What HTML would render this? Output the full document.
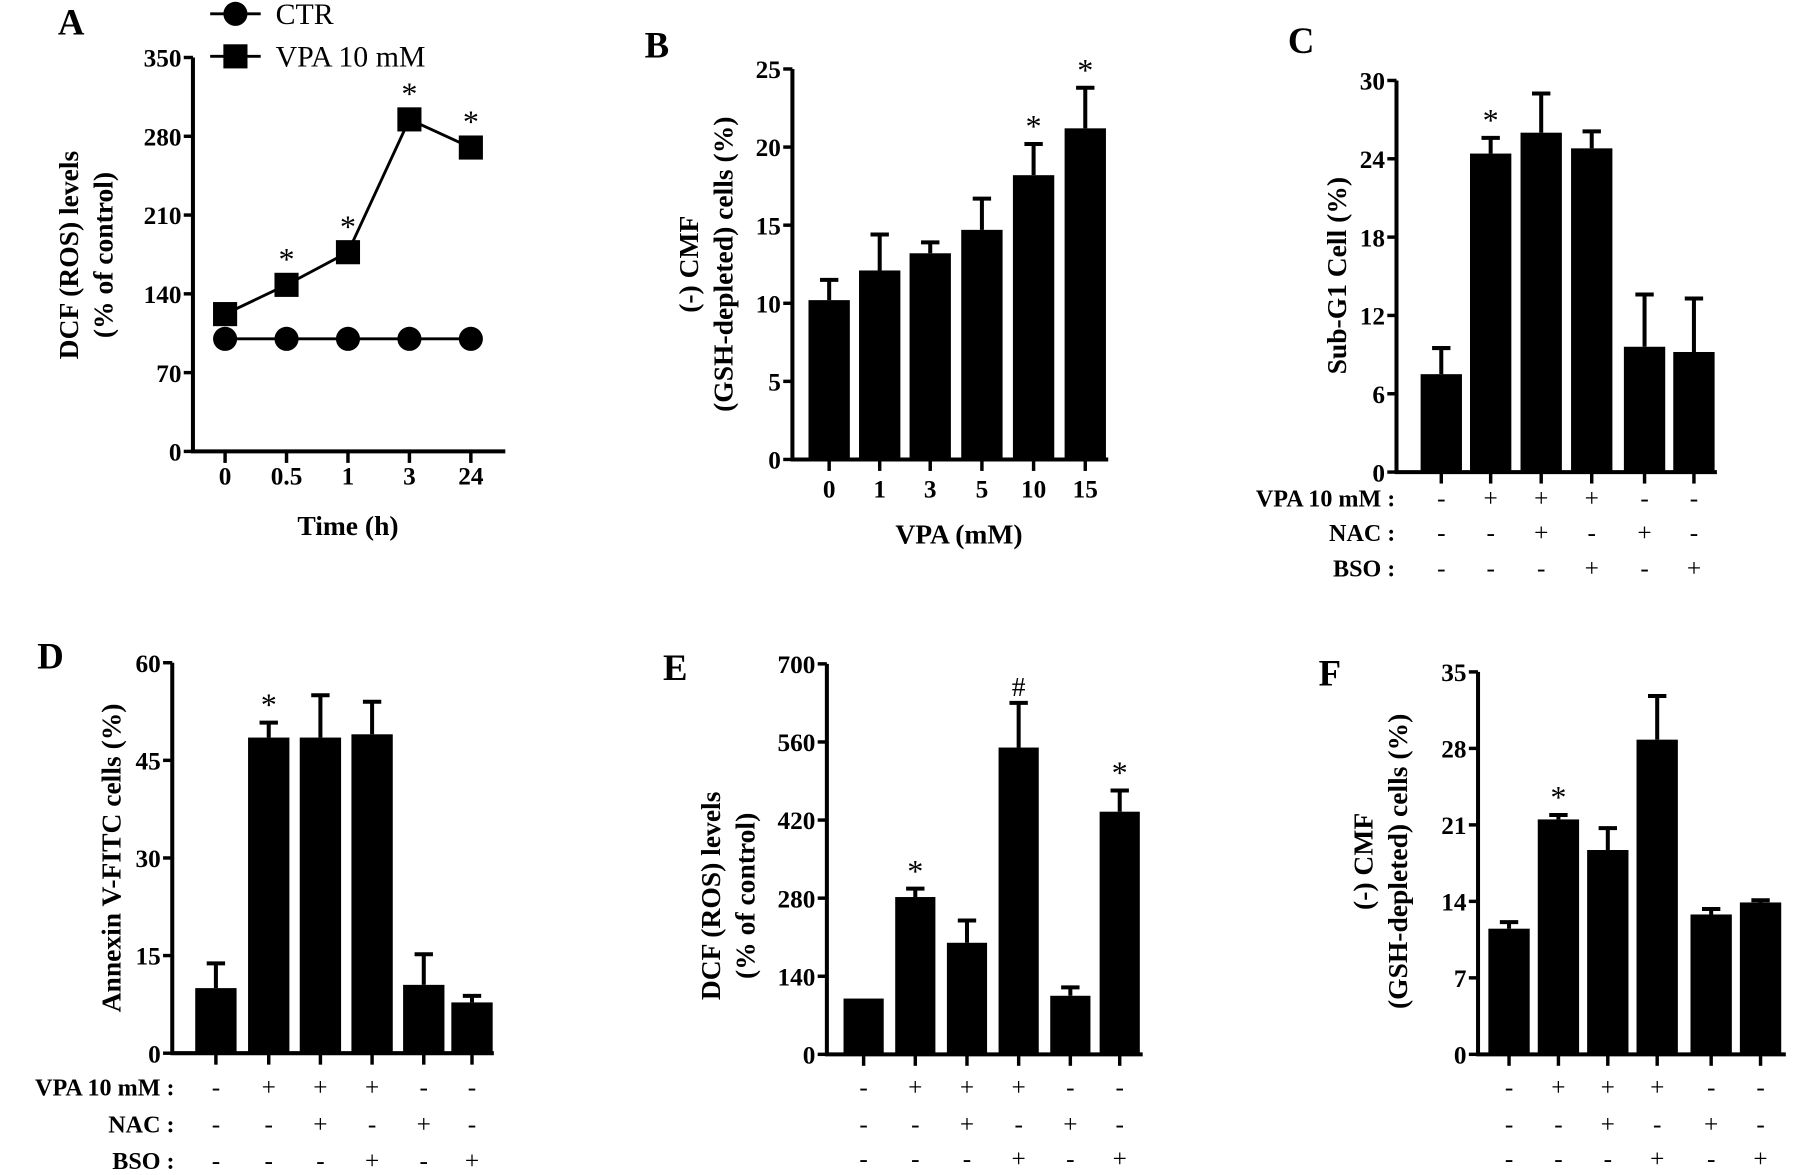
<!DOCTYPE html>
<html><head><meta charset="utf-8"><style>
html,body{margin:0;padding:0;background:#fff;}
svg{display:block;font-family:"Liberation Serif",serif;}
</style></head><body>
<svg id="fig" width="1795" height="1175" viewBox="0 0 1563 1023" xmlns="http://www.w3.org/2000/svg"></svg>
<script>
// Panel A data
const aTimes = ["0","0.5","1","3","24"];
const aCTR = [100,100,100,100,100];
const aVPA = [122,148,177,295,270];
const aSig = [false,true,true,true,true];
const aTicks = [0,70,140,210,280,350];
// Panel B data
const bDoses = ["0","1","3","5","10","15"];
const bVals = [10.2,12.1,13.2,14.7,18.2,21.2];
const bErr = [1.3,2.3,0.7,2.0,2.0,2.6];
const bTicks = [0,5,10,15,20,25];
// Panel C
const cVals = [7.5,24.4,26.0,24.8,9.6,9.2];
const cErr = [2.0,1.2,3.0,1.3,4.0,4.1];
const cTicks = [0,6,12,18,24,30];
// Panel D
const dVals = [10.0,48.5,48.5,49.0,10.5,7.8];
const dErr = [3.8,2.3,6.5,5.0,4.7,1.0];
const dTicks = [0,15,30,45,60];
// Panel E
const eVals = [100,282,200,550,105,435];
const eErr = [0,15,40,80,15,38];
const eTicks = [0,140,280,420,560,700];
// Panel F
const fVals = [11.5,21.5,18.7,28.8,12.8,13.9];
const fErr = [0.6,0.4,2.0,4.0,0.5,0.2];
const fTicks = [0,7,14,21,28,35];
// treatment rows
const rowVPA = ["-","+","+","+","-","-"];
const rowNAC = ["-","-","+","-","+","-"];
const rowBSO = ["-","-","-","+","-","+"];

const NS="http://www.w3.org/2000/svg";
const svg=document.getElementById('fig');
function mk(tag,attrs,parent){const e=document.createElementNS(NS,tag);for(const k in attrs)e.setAttribute(k,attrs[k]);(parent||svg).appendChild(e);return e;}
function txt(s,x,y,size,weight,anchor,parent,rot){const t=mk('text',{x:x,y:y,'font-size':size,'font-weight':weight,'text-anchor':anchor||'middle'},parent);if(rot)t.setAttribute('transform','rotate(-90 '+x+' '+y+')');t.textContent=s;return t;}

function yAxis(g,x0,yTop,yBot,ticks){
  const max=ticks[ticks.length-1];
  const ys=v=>yBot-(v/max)*(yBot-yTop);
  const ax=mk('line',{x1:x0,y1:yTop,x2:x0,y2:yBot+1.5,stroke:'#000','stroke-width':3.5},g);
  
  ticks.forEach(t=>{
    mk('line',{x1:x0-8,y1:ys(t),x2:x0,y2:ys(t),stroke:'#000','stroke-width':3},g);
    const l=txt(String(t),x0-10,ys(t)+8,22,'bold','end',g);
    
  });
  return ys;
}

function barPanel(name,x0,xEnd,yTop,yBot,ticks,centers,vals,errs,bw,marks){
  const g=mk('g',{});
  
  const ys=yAxis(g,x0,yTop,yBot,ticks);
  vals.forEach((v,i)=>{
    const c=centers[i];
    const r=mk('rect',{x:c-bw/2,y:ys(v),width:bw,height:yBot-ys(v),fill:'#000'},g);
    
    if(errs[i]>0){
      const e=ys(v+errs[i]);
      mk('line',{x1:c,y1:e,x2:c,y2:ys(v),stroke:'#000','stroke-width':3.5},g);
      const cap=mk('line',{x1:c-8,y1:e,x2:c+8,y2:e,stroke:'#000','stroke-width':3.5},g);
      
    }
    mk('line',{x1:c,y1:yBot,x2:c,y2:yBot+10,stroke:'#000','stroke-width':3},g);
    if(marks&&marks[i]){
      const m=txt(marks[i],c,ys(v+errs[i])-6,marks[i]=='*'?28:24,'normal','middle',g);
      
    }
  });
  const xa=mk('line',{x1:x0-1.5,y1:yBot,x2:xEnd,y2:yBot,stroke:'#000','stroke-width':3.5},g);
  
  return {g,ys};
}
function rows(g,centers,ys,labelX){
  const labels=["VPA 10 mM :","NAC :","BSO :"];
  [rowVPA,rowNAC,rowBSO].forEach((row,r)=>{
    if(labelX!==null){const l=txt(labels[r],labelX,ys[r]+8,21,'bold','end',g);
      }
    row.forEach((s,i)=>{const t=txt(s,centers[i],ys[r]+8,22,'normal','middle',g);
      });
  });
}
function letter(s,x,y){const l=txt(s,x,y,32,'bold','middle');}

// ---------- Panel A ----------
(function(){
  const g=mk('g',{});
  const x0=168,yTop=50,yBot=393;
  const ys=yAxis(g,x0,yTop,yBot,aTicks);
  const xs=i=>196+i*53.5;
  mk('line',{x1:x0-1.5,y1:yBot,x2:440,y2:yBot,stroke:'#000','stroke-width':3.5},g);
  aTimes.forEach((t,i)=>{mk('line',{x1:xs(i),y1:yBot,x2:xs(i),y2:yBot+10,stroke:'#000','stroke-width':3},g);
    const l=txt(t,xs(i),422,22,'bold','middle',g);});
  const ctrPts=aCTR.map((v,i)=>xs(i)+','+ys(v)).join(' ');
  const vpaPts=aVPA.map((v,i)=>xs(i)+','+ys(v)).join(' ');
  const l1=mk('polyline',{points:ctrPts,fill:'none',stroke:'#000','stroke-width':2.5},g);
  
  const l2=mk('polyline',{points:vpaPts,fill:'none',stroke:'#000','stroke-width':2.5},g);
  
  aCTR.forEach((v,i)=>{const c=mk('circle',{cx:xs(i),cy:ys(v),r:10.5,fill:'#000'},g);
    });
  aVPA.forEach((v,i)=>{const r=mk('rect',{x:xs(i)-10.5,y:ys(v)-10.5,width:21,height:21,fill:'#000'},g);
    
    if(aSig[i]){const m=txt('*',xs(i),ys(v)-13,28,'normal','middle',g);}});
  const xt=txt('Time (h)',303,466,24,'bold','middle',g);
  const y1=txt('DCF (ROS) levels',68,222,24,'bold','middle',g,true);
  const y2=txt('(% of control)',98,222,24,'bold','middle',g,true);
  // legend
  const lg=mk('g',{},g);
  mk('line',{x1:183,y1:12,x2:227,y2:12,stroke:'#000','stroke-width':2.5},lg);
  mk('circle',{cx:205,cy:12,r:10.5,fill:'#000'},lg);
  const e1=txt('CTR',240,21,26,'normal','start',lg);
  mk('line',{x1:183,y1:49,x2:227,y2:49,stroke:'#000','stroke-width':2.5},lg);
  mk('rect',{x:194.5,y:38.5,width:21,height:21,fill:'#000'},lg);
  const e2=txt('VPA 10 mM',240,58,26,'normal','start',lg);
})();
letter('A',62,30);

// ---------- Panel B ----------
(function(){
  const c=[722,766,810,855,900,945];
  const p=barPanel('panel-b',690,965,60,400,bTicks,c,bVals,bErr,36,["","","","","*","*"]);
  bDoses.forEach((d,i)=>{const l=txt(d,c[i],433,22,'bold','middle',p.g);});
  const xt=txt('VPA (mM)',835,473,24,'bold','middle',p.g);
  const y1=txt('(-) CMF',608,230,24,'bold','middle',p.g,true);
  const y2=txt('(GSH-depleted) cells (%)',638,230,24,'bold','middle',p.g,true);
})();
letter('B',572,50);

// ---------- Panel C ----------
(function(){
  const c=[1255,1298,1342,1386,1432,1475];
  const p=barPanel('panel-c',1216,1495,70,411,cTicks,c,cVals,cErr,36,["","*","","","",""]);
  rows(p.g,c,[433,463,494],1215);
  const y=txt('Sub-G1 Cell (%)',1172,240,24,'bold','middle',p.g,true);
})();
letter('C',1133,46);

// ---------- Panel D ----------
(function(){
  const c=[188,234,279,324,369,411];
  const p=barPanel('panel-d',150,430,577,917,dTicks,c,dVals,dErr,36,["","*","","","",""]);
  rows(p.g,c,[946,978,1010],152);
  const y=txt('Annexin V-FITC cells (%)',105,747,24,'bold','middle',p.g,true);
})();
letter('D',44,582);

// ---------- Panel E ----------
(function(){
  const c=[752,797,842,887,932,975];
  const p=barPanel('panel-e',720,995,578,918,eTicks,c,eVals,eErr,35,["","*","","#","","*"]);
  rows(p.g,c,[946,978,1008],null);
  const y1=txt('DCF (ROS) levels',627,780,24,'bold','middle',p.g,true);
  const y2=txt('(% of control)',657,780,24,'bold','middle',p.g,true);
})();
letter('E',588,592);

// ---------- Panel F ----------
(function(){
  const c=[1314,1357,1400,1443,1490,1533];
  const p=barPanel('panel-f',1287,1555,585,918,fTicks,c,fVals,fErr,36,["","*","","","",""]);
  rows(p.g,c,[946,978,1008],null);
  const y1=txt('(-) CMF',1195,750,24,'bold','middle',p.g,true);
  const y2=txt('(GSH-depleted) cells (%)',1225,750,24,'bold','middle',p.g,true);
})();
letter('F',1158,597);
</script>
</body></html>
